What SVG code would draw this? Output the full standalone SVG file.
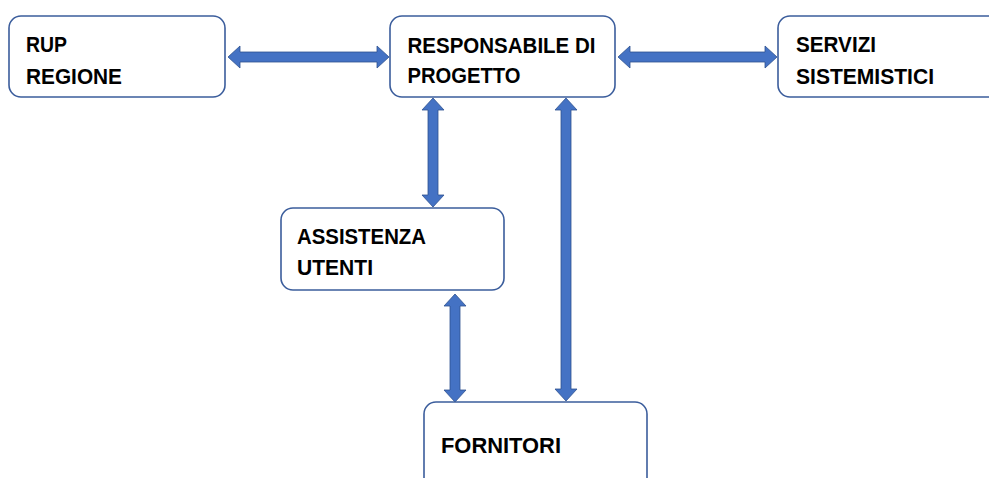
<svg xmlns="http://www.w3.org/2000/svg" width="989" height="478" viewBox="0 0 989 478">
<style>
.box{fill:#fff;stroke:#3b5d9c;stroke-width:1.6}
.arr{fill:#4472c4;stroke:#2f528f;stroke-width:0.8}
.t{font-family:"Liberation Sans",Arial,sans-serif;font-weight:bold;font-size:22.5px;fill:#000}
</style>
<rect width="989" height="478" fill="#fff"/>
<g id="connectors">
<polygon class="arr" points="228,57 240,46 240,52 377,52 377,46 389,57 377,68 377,62 240,62 240,68"/>
<polygon class="arr" points="618,57 630,46 630,52 765,52 765,46 777,57 765,68 765,62 630,62 630,68"/>
<polygon class="arr" points="433,98 444,110 438,110 438,195 444,195 433,207 422,195 428,195 428,110 422,110"/>
<polygon class="arr" points="566,98 577,110 571,110 571,389 577,389 566,401 555,389 561,389 561,110 555,110"/>
<polygon class="arr" points="455,294 466,306 460,306 460,390 466,390 455,402 444,390 450,390 450,306 444,306"/>
</g>
<g id="rup">
<rect class="box" x="9" y="16" width="216" height="81" rx="12"/>
<text class="t" x="26" y="51.5" textLength="41" lengthAdjust="spacingAndGlyphs">RUP</text>
<text class="t" x="26" y="83.5" textLength="96" lengthAdjust="spacingAndGlyphs">REGIONE</text>
</g>
<g id="responsabile">
<rect class="box" x="390" y="16" width="225" height="81" rx="12"/>
<text class="t" x="407.5" y="52.5" textLength="188" lengthAdjust="spacingAndGlyphs">RESPONSABILE DI</text>
<text class="t" x="407.5" y="83" textLength="113" lengthAdjust="spacingAndGlyphs">PROGETTO</text>
</g>
<g id="servizi">
<rect class="box" x="778" y="16" width="240" height="81" rx="12"/>
<text class="t" x="796" y="52" textLength="80" lengthAdjust="spacingAndGlyphs">SERVIZI</text>
<text class="t" x="796" y="84" textLength="138" lengthAdjust="spacingAndGlyphs">SISTEMISTICI</text>
</g>
<g id="assistenza">
<rect class="box" x="281" y="208" width="223" height="82" rx="12"/>
<text class="t" x="297" y="243.5" textLength="129" lengthAdjust="spacingAndGlyphs">ASSISTENZA</text>
<text class="t" x="297" y="275" textLength="76" lengthAdjust="spacingAndGlyphs">UTENTI</text>
</g>
<g id="fornitori">
<rect class="box" x="424" y="402" width="223" height="100" rx="12"/>
<text class="t" x="441" y="453" textLength="120" lengthAdjust="spacingAndGlyphs">FORNITORI</text>
</g>
</svg>
